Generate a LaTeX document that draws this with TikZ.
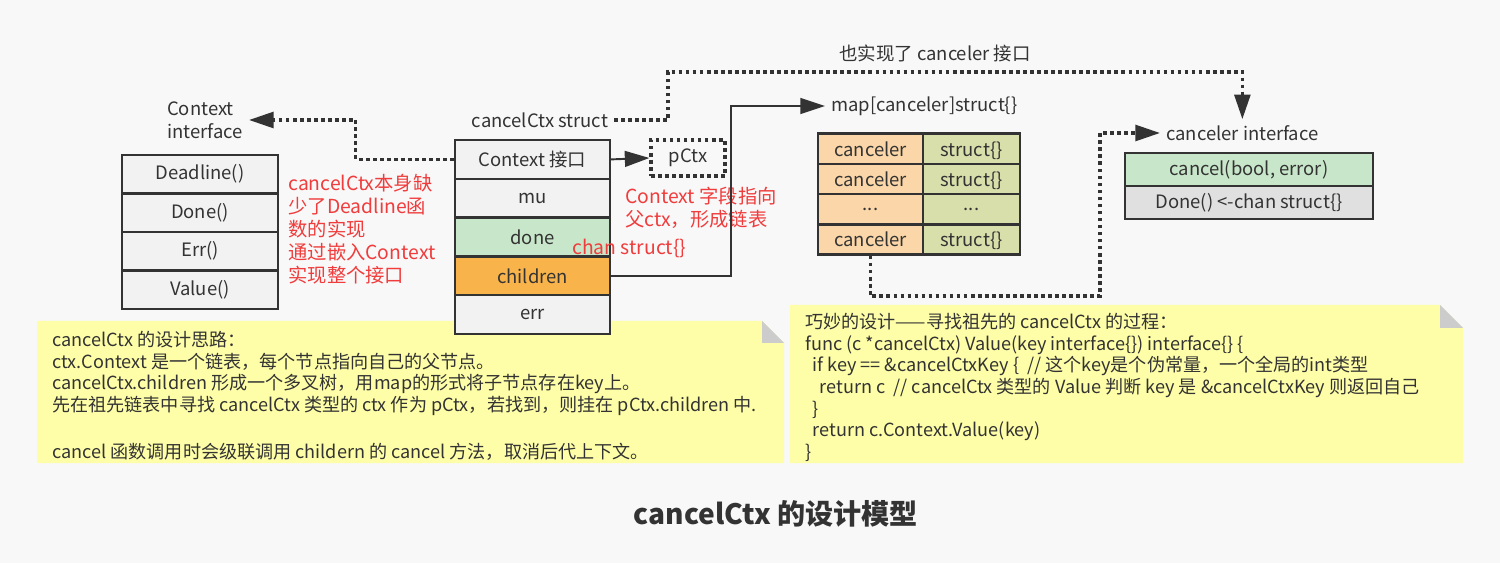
\documentclass[tikz,border=0pt]{standalone}
\usepackage{fontspec}
\setmainfont{Noto Sans CJK SC}
\usetikzlibrary{arrows.meta}

\definecolor{bgc}{HTML}{F8F8F8}
\definecolor{inkc}{HTML}{333333}
\definecolor{rowgray}{HTML}{F2F2F2}
\definecolor{greenc}{HTML}{C8E6C9}
\definecolor{orangec}{HTML}{F8B44A}
\definecolor{peachc}{HTML}{FAD6A8}
\definecolor{olivec}{HTML}{D8DFAA}
\definecolor{darkrow}{HTML}{E0E0E0}
\definecolor{notey}{HTML}{FEFEA8}
\definecolor{foldc}{HTML}{CCCCCC}
\definecolor{redc}{HTML}{F03C3C}
\newcommand{\mapdots}{...}

\begin{document}
\begin{tikzpicture}[
    x = 0.02cm, y = -0.02cm,
    every node/.style = {text = inkc, font = \fontsize{10.5}{13}\selectfont},
    row/.style = {draw = inkc, line width = 1.3pt, fill = rowgray, inner sep = 0pt},
    cell/.style = {row, minimum height = 0.605cm, text depth = 0pt, yshift = -1.5pt},
    dotline/.style = {draw = inkc, line width = 1.8pt, dash pattern = on 2.1pt off 1.9pt},
    solidline/.style = {draw = inkc, line width = 1.1pt},
    tip/.style = {-{Triangle[length = 14pt, width = 9pt]}},
    rednote/.style = {text = redc, align = left, inner sep = 0pt, font = \fontsize{11}{13}\selectfont},
    notetext/.style = {align = left, inner sep = 0pt, font = \fontsize{10.3}{12.3}\selectfont}]

\fill[bgc] (0,0) rectangle (1500,563);
\useasboundingbox (0,0) rectangle (1500,563);

% notes (behind the boxes)
\fill[notey] (37,321) -- (762,321) -- (784,343) -- (784,463) -- (37,463) -- cycle;
\fill[foldc] (762,321) -- (762,343) -- (784,343) -- cycle;
\node[notetext, anchor = north west] (idea) at (52,331)
    {cancelCtx 的设计思路：\\
     ctx.Context 是一个链表，每个节点指向自己的父节点。\\
     cancelCtx.children 形成一个多叉树，用map的形式将子节点存在key上。\\
     先在祖先链表中寻找 cancelCtx 类型的 ctx 作为 pCtx，若找到，则挂在 pCtx.children 中.\\[14.5pt]
     cancel 函数调用时会级联调用 childern 的 cancel 方法，取消后代上下文。};

\fill[notey] (790,305) -- (1440,305) -- (1463,328) -- (1463,463) -- (790,463) -- cycle;
\fill[foldc] (1440,305) -- (1440,328) -- (1463,328) -- cycle;
\node[notetext, anchor = north west] (trick) at (805,313)
    {巧妙的设计——寻找祖先的 cancelCtx 的过程：\\
     func (c *cancelCtx) Value(key interface\{\}) interface\{\} \{\\
     \hspace{0.4em}if key == \&cancelCtxKey \{\ \ // 这个key是个伪常量，一个全局的int类型\\
     \hspace{0.8em}return c\ \ // cancelCtx 类型的 Value 判断 key 是 \&cancelCtxKey 则返回自己\\
     \hspace{0.4em}\}\\
     \hspace{0.4em}return c.Context.Value(key)\\
     \}};

% Context interface
\node[align = left] (ctxlbl) at (205,120) {Context\\interface};
\foreach \name/\txt [count = \i from 0] in {ci0/Deadline(), ci1/Done(), ci2/Err(), ci3/Value()}
    \node[row, minimum width = 3.12cm, minimum height = 0.77cm] (\name) at (200,174.25+38.5*\i) {\txt};

\node[rednote, anchor = north west] (whynote) at (288,174)
    {cancelCtx本身缺\\少了Deadline函\\数的实现\\通过嵌入Context\\实现整个接口};

% cancelCtx struct
\node (cclbl) at (540,120) {cancelCtx struct};
\node[row, minimum width = 3.1cm, minimum height = 0.776cm] (cc0) at (532.5,159.4) {Context 接口};
\node[row, minimum width = 3.1cm, minimum height = 0.776cm] (cc1) at (532.5,198.2) {mu};
\node[row, minimum width = 3.1cm, minimum height = 0.776cm, fill = greenc] (cc2) at (532.5,237) {done};
\node[row, minimum width = 3.1cm, minimum height = 0.776cm, fill = orangec] (cc3) at (532.5,275.8) {children};
\node[row, minimum width = 3.1cm, minimum height = 0.776cm] (cc4) at (532.5,314.6) {err};

\node[dotline, minimum width = 1.48cm, minimum height = 0.72cm, inner sep = 0pt] (pctx) at (688,158) {pCtx};
\node[rednote, anchor = north west] (linknote) at (625,187) {Context 字段指向\\父ctx，形成链表};
\node[rednote, anchor = west] (channote) at (572,248) {chan struct\{\}};

% map[canceler]struct{}
\node[anchor = west] (maplbl) at (825,106) {map[canceler]struct\{\}};
\foreach \k/\v [count = \i from 0] in {canceler/struct\{\}, canceler/struct\{\}, \mapdots/\mapdots, canceler/struct\{\}} {
    \node[cell, minimum width = 2.1cm, fill = peachc] (m\i l) at (870.5,146.1+30.25*\i) {\k};
    \node[cell, minimum width = 1.94cm, fill = olivec] (m\i r) at (971.5,146.1+30.25*\i) {\v};
}

% canceler interface
\node[anchor = west] (cilbl) at (1160,133) {canceler interface};
\node[row, minimum width = 4.96cm, minimum height = 0.66cm, fill = greenc] (ci4) at (1249,169.5) {cancel(bool, error)};
\node[row, minimum width = 4.96cm, minimum height = 0.66cm, fill = darkrow] (ci5) at (1249,202.5) {Done() <-chan struct\{\}};

\node (impllbl) at (935,53) {也实现了 canceler 接口};

% connectors
\coordinate (upper) at (668,72);
\coordinate (lower) at (1100,296);
\draw[dotline, tip] (cc0.west) -- ++(-98,0) |- (ctxlbl.east);
\draw[solidline, tip] (cc0.east) -- (pctx.west);
\draw[solidline, tip] (cc3.east) -- ++(120,0) |- (maplbl.west);
\draw[dotline, tip] (cclbl.east) -| (upper) -| (cilbl.north);
\draw[dotline, tip] (m3l.south) |- (lower) |- (cilbl.west);

\node[font = \bfseries\fontsize{16}{19}\selectfont] (title) at (776,514) {cancelCtx 的设计模型};
\end{tikzpicture}
\end{document}
